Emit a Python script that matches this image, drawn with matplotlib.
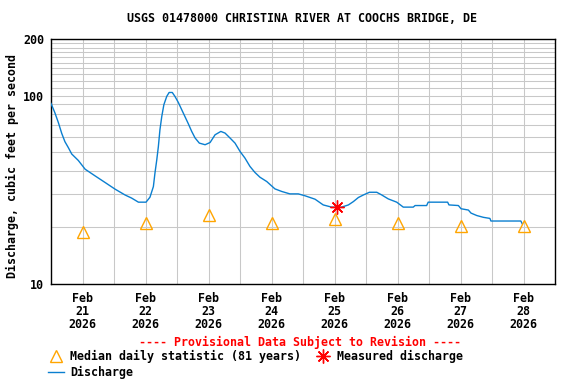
import pandas as pd
import matplotlib
matplotlib.use("Agg")
import matplotlib.pyplot as plt
import matplotlib.dates as mdates
from matplotlib.ticker import FixedLocator, FixedFormatter, NullFormatter
from matplotlib.lines import Line2D

plt.rcParams['font.family'] = 'DejaVu Sans Mono'
plt.rcParams['font.weight'] = 'bold'
plt.rcParams['font.size'] = 8.4

# Discharge readings, hours since Feb 21 2026 00:00
hours = [0, 1.5, 2.8, 4.1, 5.3, 6.6, 7.9, 10.4, 13.0, 16.8, 20.6, 24.4, 28.2,
         30.7, 33.3, 36.2, 37.7, 39.0, 39.6, 40.3, 40.9, 41.5, 42.2, 43.0,
         44.1, 45.0, 46.2, 47.2, 48.5, 49.8, 51.0, 52.3, 53.6, 54.9, 56.5,
         58.7, 60.6, 62.5, 64.7, 66.3, 68.2, 70.1, 72.0, 73.9, 75.8, 77.7,
         79.6, 82.2, 85.3, 87.9, 91.0, 94.2, 96.8, 100.6, 103.7, 106.9, 110.7,
         113.3, 115.2, 117.1, 119.0, 121.3, 124.1, 126.0, 128.5, 131.7, 134.2,
         138.0, 138.7, 143.1, 143.7, 151.1, 151.6, 155.2, 156.2, 159.0, 160.0,
         162.2, 164.7, 167.2, 167.6, 174.2, 179.0, 179.5]
discharge = [91, 81, 72, 63, 57, 53, 49, 45.3, 40.7, 37.5, 34.6, 31.9, 29.7,
             28.6, 27.2, 27.2, 28.9, 32.9, 38.8, 45.7, 53.7, 65.9, 77.6, 89.6,
             99.2, 104, 104, 99.2, 92.1, 84.2, 77.6, 71.0, 64.6, 59.6, 56.0,
             54.9, 56.4, 62.0, 64.6, 63.3, 59.6, 56.0, 50.6, 46.6, 42.1, 39.1,
             36.9, 35.0, 32.0, 31.0, 30.1, 30.1, 29.4, 28.2, 26.3, 25.6, 25.6,
             26.3, 27.4, 28.8, 29.7, 30.7, 30.7, 29.7, 28.3, 27.2, 25.6,
             25.6, 26.1, 26.1, 27.2, 27.2, 26.3, 26.1, 25.1, 24.7, 23.8,
             23.1, 22.6, 22.3, 21.6, 21.6, 21.6, 20.9]

# Median daily statistic (81 years), plotted at noon
median_days = ['2026-02-21', '2026-02-22', '2026-02-23', '2026-02-24',
               '2026-02-25', '2026-02-26', '2026-02-27', '2026-02-28']
median_vals = [19.0, 21.1, 23.3, 21.2, 22.1, 21.2, 20.2, 20.2]

# Measured discharge
measured_time = ['2026-02-25 13:00']
measured_val = [25.6]

start = pd.Timestamp('2026-02-21')
t = start + pd.to_timedelta(hours, unit='h')
med_t = pd.to_datetime(median_days) + pd.Timedelta(hours=12)
meas_t = pd.to_datetime(measured_time)

fig = plt.figure(figsize=(5.76, 3.84), dpi=100)
ax = fig.add_axes([51/576, 1 - 284/384, 504/576, 245/384])

ax.plot(t, discharge, color='#0a7fd0', lw=1.0, zorder=3)
ax.plot(med_t, median_vals, linestyle='none', marker='^', ms=8,
        mfc='none', mec='#ffa500', mew=1.0, zorder=4)
ax.plot(meas_t, measured_val, linestyle='none', marker=(8, 2, 0), ms=10,
        color='red', mew=1.0, zorder=5)

ax.set_yscale('log')
ax.set_ylim(10, 200)
ax.yaxis.set_major_locator(FixedLocator([10, 100, 200]))
ax.yaxis.set_major_formatter(FixedFormatter(['10', '100', '200']))
ax.yaxis.set_minor_locator(FixedLocator([20, 30, 40, 50, 60, 70, 80, 90,
                                         110, 120, 130, 140, 150, 160, 170, 180, 190]))
ax.yaxis.set_minor_formatter(NullFormatter())

ax.set_xlim(start, start + pd.Timedelta(days=8))
ax.xaxis.set_major_locator(mdates.DayLocator())
ax.xaxis.set_major_formatter(NullFormatter())
ax.xaxis.set_minor_locator(mdates.HourLocator(byhour=[12]))
ax.xaxis.set_minor_formatter(mdates.DateFormatter('%b\n%d\n%Y'))

ax.grid(True, which='both', color='#c8c8c8', lw=0.75)
ax.set_axisbelow(True)
ax.tick_params(which='both', length=0)
ax.tick_params(axis='x', which='minor', pad=6)
ax.tick_params(axis='y', pad=5)
for lab in ax.xaxis.get_minorticklabels():
    lab.set_linespacing(1.0)
for sp in ax.spines.values():
    sp.set_color('black')
    sp.set_linewidth(1.0)

fig.text(0.525, 1 - 19/384, 'USGS 01478000 CHRISTINA RIVER AT COOCHS BRIDGE, DE',
         ha='center', va='center')
fig.text(12/576, 1 - 166/384, 'Discharge, cubic feet per second',
         rotation=90, ha='center', va='center')
fig.text(300/576, 1 - 342/384, '---- Provisional Data Subject to Revision ----',
         ha='center', va='center', color='red')

handles = [
    Line2D([], [], linestyle='none', marker='^', ms=8, mfc='none',
           mec='#ffa500', mew=1.0),
    Line2D([], [], color='#0a7fd0', lw=1.0),
    Line2D([], [], linestyle='none', marker=(8, 2, 0), ms=10, color='red', mew=1.0),
]
labels = ['Median daily statistic (81 years)', 'Discharge', 'Measured discharge']
fig.legend(handles, labels, loc='upper left', bbox_to_anchor=(48/576, 1 - 350/384),
           ncol=2, frameon=False, handlelength=1.4, handletextpad=0.5,
           columnspacing=1.2, labelspacing=0.25, borderpad=0, borderaxespad=0)

fig.savefig('out.png', dpi=100)
